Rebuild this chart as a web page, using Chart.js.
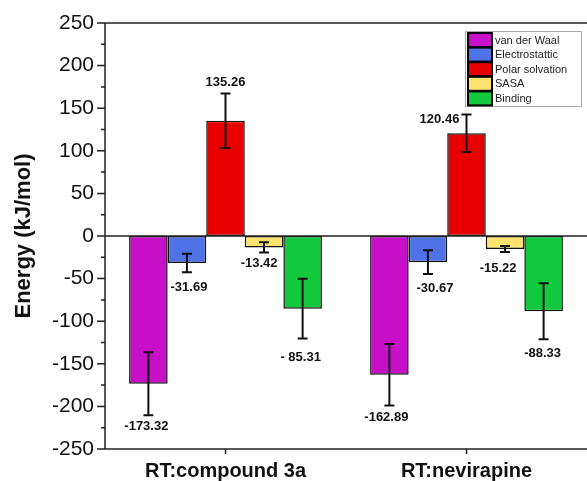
<!DOCTYPE html>
<html>
<head>
<meta charset="utf-8">
<script src="https://cdn.jsdelivr.net/npm/chart.js@4.4.1/dist/chart.umd.min.js"></script>
<style>
  html, body { margin: 0; padding: 0; background: #fff; }
  #wrap { width: 587px; height: 481px; }
</style>
</head>
<body>
<div id="wrap"><canvas id="myChart"></canvas></div>
<script>
const categories = ["RT:compound 3a", "RT:nevirapine"];
const seriesNames = ["van der Waal", "Electrostattic", "Polar solvation", "SASA", "Binding"];

const vanDerWaal = [-173.32, -162.89];
const electrostatic = [-31.69, -30.67];
const polarSolvation = [135.26, 120.46];
const sasa = [-13.42, -15.22];
const binding = [-85.31, -88.33];

const vanDerWaalErr = [37, 36];
const electrostaticErr = [11, 14];
const polarSolvationErr = [32, 22];
const sasaErr = [6, 3.5];
const bindingErr = [35, 33];

const vanDerWaalLabels = ["-173.32", "-162.89"];
const electrostaticLabels = ["-31.69", "-30.67"];
const polarSolvationLabels = ["135.26", "120.46"];
const sasaLabels = ["-13.42", "-15.22"];
const bindingLabels = ["- 85.31", "-88.33"];

const yMin = -250, yMax = 250, yStep = 50;

const colors = ["#C80FC8", "#4F72E6", "#E80000", "#FCE46E", "#12C83C"];
// small hand nudges for the value labels [dx, dy] in px
const labelNudge = [
  [[-2, 11], [-3, 12]],
  [[2, 15], [7, 14]],
  [[0, -11], [-27, 5]],
  [[-5, 11], [-7, 16]],
  [[-2, 19], [-1, 14]]
];

const values = [vanDerWaal, electrostatic, polarSolvation, sasa, binding];
const errs = [vanDerWaalErr, electrostaticErr, polarSolvationErr, sasaErr, bindingErr];
const valueLabels = [vanDerWaalLabels, electrostaticLabels, polarSolvationLabels, sasaLabels, bindingLabels];

const overlay = {
  id: "overlay",
  afterDatasetsDraw(chart) {
    const { ctx, chartArea: a, scales: { x, y } } = chart;
    ctx.save();
    ctx.strokeStyle = "#222";
    ctx.lineWidth = 1.5;
    // frame + zero line
    const y0 = y.getPixelForValue(0);
    ctx.beginPath();
    ctx.moveTo(a.left, a.top); ctx.lineTo(a.left, a.bottom);
    ctx.moveTo(a.left - 8, a.top); ctx.lineTo(a.right, a.top);
    ctx.moveTo(a.left - 8, a.bottom); ctx.lineTo(a.right, a.bottom);
    ctx.moveTo(a.left - 8, y0); ctx.lineTo(a.right, y0);
    for (let v = yMin; v <= yMax; v += yStep / 2) {
      const py = y.getPixelForValue(v);
      const len = v % yStep === 0 ? 8 : 4;
      ctx.moveTo(a.left - len, py); ctx.lineTo(a.left, py);
    }
    categories.forEach((c, j) => {
      const px = x.getPixelForValue(j);
      ctx.moveTo(px, a.bottom); ctx.lineTo(px, a.bottom + 5);
    });
    ctx.stroke();

    // error bars and value labels
    chart.data.datasets.forEach((ds, i) => {
      const meta = chart.getDatasetMeta(i);
      meta.data.forEach((bar, j) => {
        const v = ds.data[j], e = errs[i][j];
        const yLo = y.getPixelForValue(v - e), yHi = y.getPixelForValue(v + e);
        ctx.strokeStyle = "#111";
        ctx.lineWidth = 2;
        ctx.beginPath();
        ctx.moveTo(bar.x, yLo); ctx.lineTo(bar.x, yHi);
        ctx.moveTo(bar.x - 5, yLo); ctx.lineTo(bar.x + 5, yLo);
        ctx.moveTo(bar.x - 5, yHi); ctx.lineTo(bar.x + 5, yHi);
        ctx.stroke();

        const [dx, dy] = labelNudge[i][j];
        const ly = (v < 0 ? yLo : yHi) + dy;
        ctx.fillStyle = "#111";
        ctx.font = "bold 13px Arial, 'Liberation Sans', sans-serif";
        ctx.textAlign = "center";
        ctx.textBaseline = "middle";
        ctx.fillText(valueLabels[i][j], bar.x + dx, ly);
      });
    });

    // legend box
    const lx = 465.5, ly = 31.5, lw = 116, lh = 75;
    ctx.fillStyle = "#fff";
    ctx.fillRect(lx, ly, lw, lh);
    ctx.strokeStyle = "#aaa";
    ctx.lineWidth = 1;
    ctx.strokeRect(lx, ly, lw, lh);
    seriesNames.forEach((name, k) => {
      const sy = 33 + k * 14.6;
      ctx.fillStyle = colors[k];
      ctx.fillRect(468, sy, 24, 14);
      ctx.strokeStyle = "#000";
      ctx.lineWidth = 2;
      ctx.strokeRect(468, sy, 24, 14);
      ctx.fillStyle = "#222";
      ctx.font = "11px Arial, 'Liberation Sans', sans-serif";
      ctx.textAlign = "left";
      ctx.textBaseline = "middle";
      ctx.fillText(name, 495, sy + 7.5);
    });
    ctx.restore();
  }
};

new Chart(document.getElementById("myChart").getContext("2d"), {
  type: "bar",
  data: {
    labels: categories,
    datasets: seriesNames.map((name, i) => ({
      label: name,
      data: values[i],
      backgroundColor: colors[i],
      borderColor: "#111",
      borderWidth: 1.5,
      borderSkipped: false,
      categoryPercentage: 0.8,
      barPercentage: 1.0
    }))
  },
  options: {
    responsive: true,
    maintainAspectRatio: false,
    animation: false,
    layout: { padding: { top: 23, right: 0, left: 0, bottom: 0 } },
    plugins: {
      legend: { display: false },
      tooltip: { enabled: false }
    },
    scales: {
      x: {
        grid: { display: false },
        border: { display: false },
        ticks: {
          padding: 2,
          color: "#111",
          font: { family: "Arial, 'Liberation Sans', sans-serif", size: 20, weight: "bold" }
        },
        afterFit: s => { s.height = 32; }
      },
      y: {
        min: yMin,
        max: yMax,
        grid: { display: false },
        border: { display: false },
        ticks: {
          stepSize: yStep,
          padding: 3,
          color: "#111",
          font: { family: "Arial, 'Liberation Sans', sans-serif", size: 21 }
        },
        title: {
          display: true,
          text: "Energy (kJ/mol)",
          color: "#111",
          padding: { top: 11, bottom: 0 },
          font: { family: "Arial, 'Liberation Sans', sans-serif", size: 22, weight: "bold" }
        },
        afterFit: s => { s.width = 105; }
      }
    }
  },
  plugins: [overlay]
});
</script>
</body>
</html>
